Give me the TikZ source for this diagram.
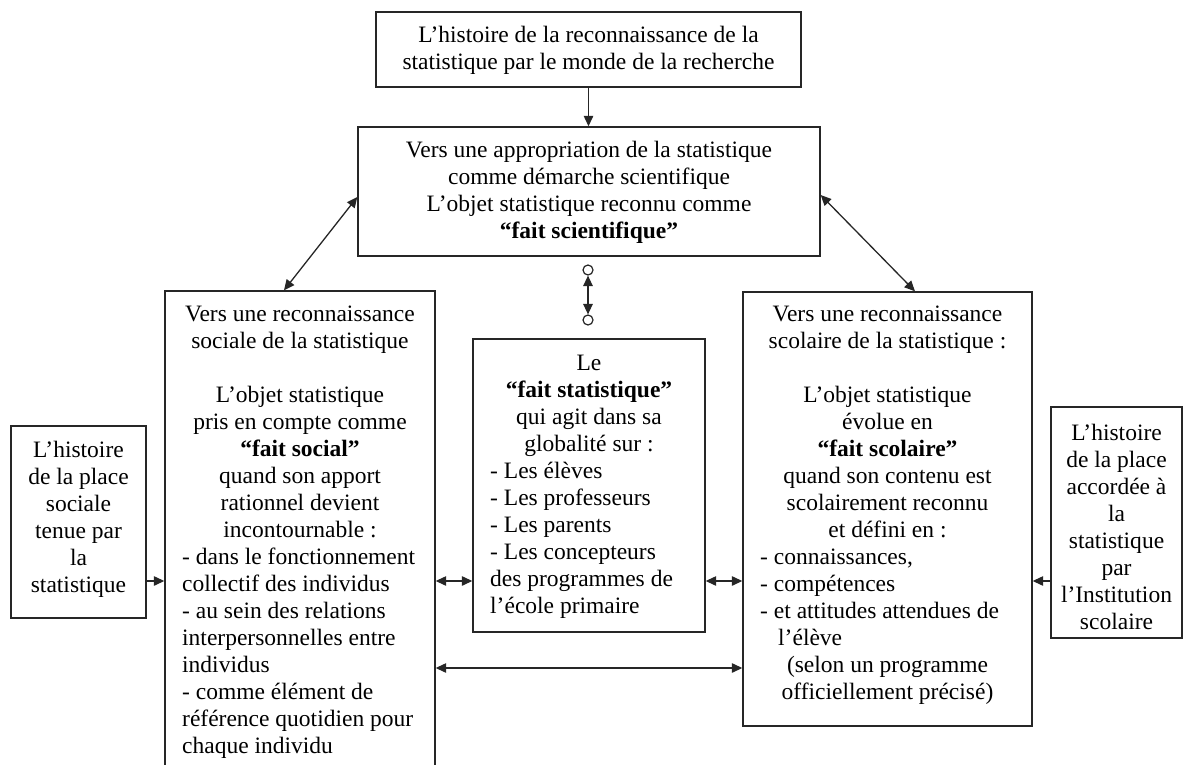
\documentclass[tikz,border=0pt]{standalone}
\usepackage{fontspec}
\setmainfont{Liberation Serif}
\usetikzlibrary{arrows.meta}
\begin{document}
\begin{tikzpicture}[x=1pt,y=-1pt,
  box/.style={draw=black!85, line width=1.4pt, inner sep=0pt},
  txt/.style={inner sep=0pt, font=\fontsize{23.5}{27}\selectfont},
  ctxt/.style={txt, align=center, anchor=north},
  ltxt/.style={txt, align=left, anchor=north west},
  conn/.style={line width=1.3pt, draw=black!85},
  oneway/.style={conn, -{Triangle[length=10.5pt,width=9.5pt]}},
  twoway/.style={conn, {Triangle[length=10.5pt,width=9.5pt]}-{Triangle[length=10.5pt,width=9.5pt]}},
  ring/.style={circle, draw=black!85, fill=white, line width=1.2pt, minimum size=10pt, inner sep=0pt},
]
\useasboundingbox (0,0) rectangle (1185,765);
\clip (0,0) rectangle (1185,765);

% top box
\node[box, minimum width=425pt, minimum height=75pt] (top) at (588.5,49.5) {};
\node[ctxt] (topT) at (588.5,23) {\strut L’histoire de la reconnaissance de la\\statistique par le monde de la recherche};

% middle box
\node[box, minimum width=462pt, minimum height=129pt] (mid) at (589,191.5) {};
\node[ctxt] (midT) at (589,138.6) {\strut Vers une appropriation de la statistique\\comme démarche scientifique\\L’objet statistique reconnu comme\\\textbf{“fait scientifique”}};

% left small box
\node[box, minimum width=135pt, minimum height=192pt] (ls) at (78.5,522) {};
\node[ctxt] (lsT) at (78.5,438) {\strut L’histoire\\de la place\\sociale\\tenue par\\la\\statistique};

% left main box
\node[box, minimum width=270pt, minimum height=509pt] (lm) at (300,545.5) {};
\node[ctxt] (lmH) at (300,302) {\strut Vers une reconnaissance\\sociale de la statistique\\[27pt]L’objet statistique\\pris en compte comme\\\textbf{“fait social”}\\quand son apport\\rationnel devient\\incontournable :};
\node[ltxt] (lmL) at (182,545) {\strut - dans le fonctionnement\\collectif des individus\\- au sein des relations\\interpersonnelles entre\\individus\\- comme élément de\\référence quotidien pour\\chaque individu};

% centre box
\node[box, minimum width=232pt, minimum height=293pt] (ct) at (589,485.5) {};
\node[ctxt] (ctH) at (589,351) {\strut Le\\\textbf{“fait statistique”}\\qui agit dans sa\\globalité sur :};
\node[ltxt] (ctL) at (490,459) {\strut - Les élèves\\- Les professeurs\\- Les parents\\- Les concepteurs\\des programmes de\\l’école primaire};

% right main box
\node[box, minimum width=289pt, minimum height=434pt] (rb) at (887.5,509) {};
\node[ctxt] (rbH) at (887.5,302) {\strut Vers une reconnaissance\\scolaire de la statistique :\\[27pt]L’objet statistique\\évolue en\\\textbf{“fait scolaire”}\\quand son contenu est\\scolairement reconnu\\et défini en :};
\node[ltxt] (rbL) at (760,545) {\strut - connaissances,\\- compétences\\- et attitudes attendues de\\\hspace*{18pt}l’élève};
\node[ctxt] (rbF) at (887.5,653) {\strut (selon un programme\\officiellement précisé)};

% right small box
\node[box, minimum width=131pt, minimum height=231pt] (rs) at (1116.5,522.5) {};
\node[ctxt] (rsT) at (1116.5,421) {\strut L’histoire\\de la place\\accordée à\\la\\statistique\\par\\l’Institution\\scolaire};

% rings
\node[ring] (c1) at (588,270) {};
\node[ring] (c2) at (588,320) {};

% levels
\coordinate (yA) at (0,581);
\coordinate (yB) at (0,668);

% connectors
\draw[oneway] (top.south) -- (top.south |- mid.north);
\draw[twoway] (c1) -- (c2);
\draw[twoway] ([yshift=-5.5pt]mid.west) -- ([xshift=-16pt]lm.north);
\draw[twoway] ([yshift=-3.5pt]mid.east) -- ([xshift=27.5pt]rb.north);
\draw[oneway] (ls.east |- yA) -- (lm.west |- yA);
\draw[twoway] (lm.east |- yA) -- (ct.west |- yA);
\draw[twoway] (ct.east |- yA) -- (rb.west |- yA);
\draw[twoway] (lm.east |- yB) -- (rb.west |- yB);
\draw[oneway] (rs.west |- yA) -- (rb.east |- yA);
\end{tikzpicture}
\end{document}
